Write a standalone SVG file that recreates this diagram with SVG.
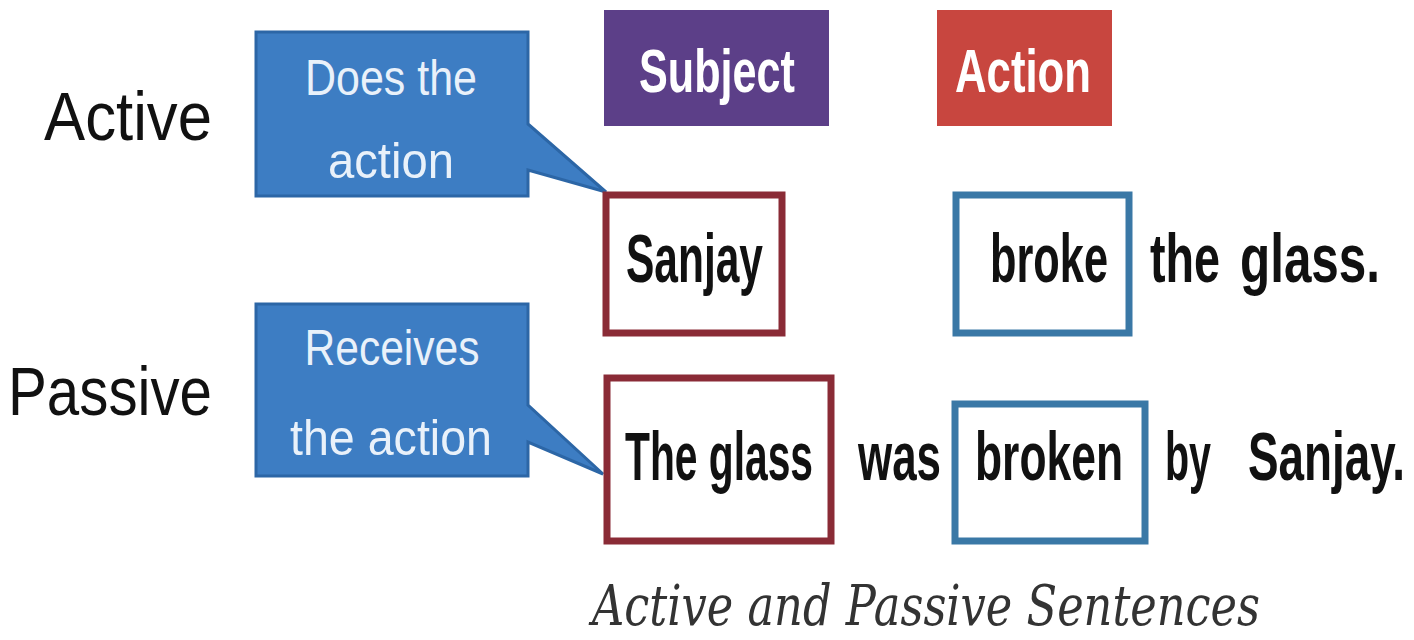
<svg xmlns="http://www.w3.org/2000/svg" width="1414" height="640" viewBox="0 0 1414 640">
<style>
.lbl{font-family:"Liberation Sans",Arial,sans-serif;font-size:68px;fill:#111}
.call{fill:#3d7dc3;stroke:#2c66a6;stroke-width:3}
.ctxt{font-family:"Liberation Sans",Arial,sans-serif;font-size:50px;fill:#e9f1fa;text-anchor:middle}
.tag{font-family:"Liberation Sans",Arial,sans-serif;font-size:62px;font-weight:bold;fill:#fff;text-anchor:middle}
.word{font-family:"Liberation Sans",Arial,sans-serif;font-size:68px;font-weight:bold;fill:#111}
.sbox{fill:#fff;stroke:#8a2b36;stroke-width:7}
.abox{fill:#fff;stroke:#3a78a6;stroke-width:7}
.cap{font-family:"DejaVu Serif","Liberation Serif",serif;font-style:italic;font-size:56px;fill:#333}
</style>
<rect width="1414" height="640" fill="#fff"/>
<g id="label-active"><text class="lbl" x="44" y="140" textLength="168" lengthAdjust="spacingAndGlyphs">Active</text></g>
<g id="label-passive"><text class="lbl" x="8" y="415" textLength="204" lengthAdjust="spacingAndGlyphs">Passive</text></g>
<g id="callout-does">
<path class="call" d="M256,32 H528 V124 L606,192 L528,170 V196 H256 Z"/>
<text class="ctxt" x="391" y="95" textLength="172" lengthAdjust="spacingAndGlyphs">Does the</text>
<text class="ctxt" x="391" y="178" textLength="126" lengthAdjust="spacingAndGlyphs">action</text>
</g>
<g id="callout-receives">
<path class="call" d="M256,304 H528 V405 L603,474 L528,442 V476 H256 Z"/>
<text class="ctxt" x="392" y="365" textLength="175" lengthAdjust="spacingAndGlyphs">Receives</text>
<text class="ctxt" x="391" y="455" textLength="202" lengthAdjust="spacingAndGlyphs">the action</text>
</g>
<g id="tag-subject">
<rect x="604" y="10" width="225" height="116" fill="#5c3f88"/>
<text class="tag" x="717" y="92" textLength="156" lengthAdjust="spacingAndGlyphs">Subject</text>
</g>
<g id="tag-action">
<rect x="937" y="10" width="175" height="116" fill="#c8463f"/>
<text class="tag" x="1023" y="92" textLength="136" lengthAdjust="spacingAndGlyphs">Action</text>
</g>
<g id="box-sanjay">
<rect class="sbox" x="606" y="195" width="176" height="138"/>
<text class="word" x="626" y="282" textLength="137" lengthAdjust="spacingAndGlyphs">Sanjay</text>
</g>
<g id="box-broke">
<rect class="abox" x="956" y="195" width="173" height="138"/>
<text class="word" x="990" y="282" textLength="118" lengthAdjust="spacingAndGlyphs">broke</text>
</g>
<g id="word-the"><text class="word" x="1150" y="282" textLength="70" lengthAdjust="spacingAndGlyphs">the</text></g>
<g id="word-glass"><text class="word" x="1240" y="282" textLength="140" lengthAdjust="spacingAndGlyphs">glass.</text></g>
<g id="box-theglass">
<rect class="sbox" x="607" y="378" width="224" height="163"/>
<text class="word" x="625" y="480" textLength="188" lengthAdjust="spacingAndGlyphs">The glass</text>
</g>
<g id="word-was"><text class="word" x="858" y="480" textLength="83" lengthAdjust="spacingAndGlyphs">was</text></g>
<g id="box-broken">
<rect class="abox" x="955" y="404" width="190" height="137"/>
<text class="word" x="975" y="480" textLength="148" lengthAdjust="spacingAndGlyphs">broken</text>
</g>
<g id="word-by"><text class="word" x="1165" y="480" textLength="46" lengthAdjust="spacingAndGlyphs">by</text></g>
<g id="word-sanjay2"><text class="word" x="1248" y="480" textLength="157" lengthAdjust="spacingAndGlyphs">Sanjay.</text></g>
<g id="caption"><text class="cap" x="592" y="625" textLength="668" lengthAdjust="spacingAndGlyphs">Active and Passive Sentences</text></g>
</svg>
